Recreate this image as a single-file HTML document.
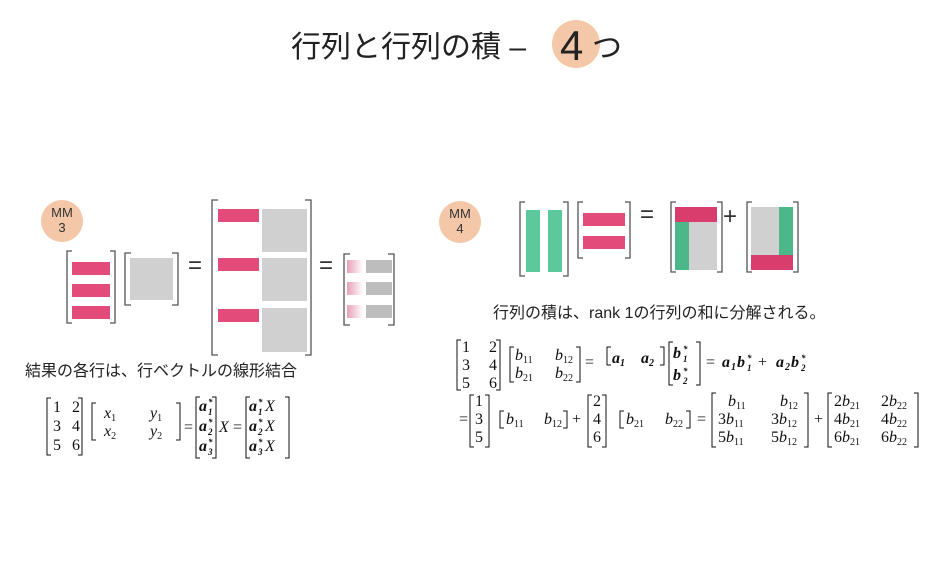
<!DOCTYPE html>
<html><head><meta charset="utf-8"><style>
html,body{margin:0;padding:0;background:#fff}
body{width:947px;height:572px;position:relative;overflow:hidden;font-family:"Liberation Sans","Noto Sans CJK JP",sans-serif}
</style></head><body>
<svg width="947" height="572" viewBox="0 0 947 572" xmlns="http://www.w3.org/2000/svg" style="position:absolute;left:0;top:0">
<defs>
<linearGradient id="fade" x1="0" x2="1"><stop offset="0" stop-color="#e8a0b8"/><stop offset="1" stop-color="#fff"/></linearGradient>
</defs>
<circle cx="576" cy="44" r="24" fill="#f3c7a8"/>
<text x="291" y="57" font-size="30" fill="#222" font-family="Liberation Sans, Noto Sans CJK JP, sans-serif">行列と行列の積 –</text>
<text x="560" y="60" font-size="42" fill="#222" font-family="Liberation Sans, sans-serif">4</text>
<text x="592" y="58" font-size="30" fill="#222" font-family="Noto Sans CJK JP, sans-serif">つ</text>

<circle cx="62" cy="221" r="21" fill="#f3c7a8"/>
<text x="62" y="217" font-size="13" text-anchor="middle" fill="#333">MM</text>
<text x="62" y="232" font-size="13" text-anchor="middle" fill="#333">3</text>
<g fill="none" stroke="#555" stroke-width="1.3">
<path d="M72,251 H67 V323 H72"/><path d="M110,251 H115 V323 H110"/>
<path d="M131,253 H125 V305 H131"/><path d="M172,253 H178 V305 H172"/>
<path d="M218,200 H212 V355 H218"/><path d="M305,200 H311 V355 H305"/>
<path d="M350,254 H344 V325 H350"/><path d="M388,254 H394 V325 H388"/>
</g>
<g fill="#e34b7a">
<rect x="72" y="262" width="38" height="13"/><rect x="72" y="284" width="38" height="13"/><rect x="72" y="306" width="38" height="13"/>
<rect x="218" y="209" width="41" height="13"/><rect x="218" y="258" width="41" height="13"/><rect x="218" y="309" width="41" height="13"/>
</g>
<g fill="#d0d0d0">
<rect x="130" y="258" width="43" height="42"/>
<rect x="262" y="209" width="45" height="43"/><rect x="262" y="258" width="45" height="43"/><rect x="262" y="308" width="45" height="44"/>
<rect x="366" y="260" width="26" height="13" fill="#bdbdbd"/><rect x="366" y="282" width="26" height="13" fill="#bdbdbd"/><rect x="366" y="305" width="26" height="13" fill="#bdbdbd"/>
</g>
<rect x="347" y="260" width="16" height="13" fill="url(#fade)"/><rect x="347" y="282" width="16" height="13" fill="url(#fade)"/><rect x="347" y="305" width="16" height="13" fill="url(#fade)"/>
<text x="188" y="273" font-size="24" fill="#333">=</text>
<text x="319" y="273" font-size="24" fill="#333">=</text>
<text x="25" y="376" font-size="16" fill="#222" font-family="Liberation Sans, Noto Sans CJK JP, sans-serif">結果の各行は、行ベクトルの線形結合</text>

<circle cx="460" cy="222" r="21" fill="#f3c7a8"/>
<text x="460" y="218" font-size="13" text-anchor="middle" fill="#333">MM</text>
<text x="460" y="233" font-size="13" text-anchor="middle" fill="#333">4</text>
<g fill="none" stroke="#555" stroke-width="1.3">
<path d="M525,202 H520 V276 H525"/><path d="M563,202 H568 V276 H563"/>
<path d="M583,202 H578 V258 H583"/><path d="M625,202 H630 V258 H625"/>
<path d="M676,202 H671 V272 H676"/><path d="M717,202 H722 V272 H717"/>
<path d="M752,202 H747 V272 H752"/><path d="M793,202 H798 V272 H793"/>
</g>
<g fill="#5cc89b"><rect x="526" y="210" width="14" height="62"/><rect x="548" y="210" width="14" height="62"/></g>
<g fill="#e34b7a"><rect x="583" y="213" width="42" height="13"/><rect x="583" y="236" width="42" height="13"/></g>
<rect x="675" y="207" width="42" height="63" fill="#d0d0d0"/>
<rect x="675" y="222" width="14" height="48" fill="#4cb88a"/>
<rect x="675" y="207" width="42" height="15" fill="#d93d6e"/>
<rect x="751" y="207" width="42" height="63" fill="#d0d0d0"/>
<rect x="779" y="207" width="14" height="48" fill="#4cb88a"/>
<rect x="751" y="255" width="42" height="15" fill="#d93d6e"/>
<text x="640" y="222" font-size="24" fill="#333">=</text>
<text x="723" y="224" font-size="24" fill="#333">+</text>
<text x="493" y="318" font-size="16" fill="#222" font-family="Liberation Sans, Noto Sans CJK JP, sans-serif">行列の積は、rank 1の行列の和に分解される。</text>

<g font-family="Liberation Serif, DejaVu Serif, serif" font-size="16" fill="#111">
<g fill="none" stroke="#111" stroke-width="1">
<path d="M51,398 H47 V455 H51"/><path d="M78,398 H82 V455 H78"/>
<path d="M96,403 H92 V440 H96"/><path d="M176,403 H180 V440 H176"/>
<path d="M200,397 H196 V458 H200"/><path d="M212,397 H216 V458 H212"/>
<path d="M250,397 H246 V458 H250"/><path d="M285,397 H289 V458 H285"/>
<path d="M461,340 H457 V390 H461"/><path d="M496,340 H500 V390 H496"/>
<path d="M514,347 H510 V382 H514"/><path d="M576,347 H580 V382 H576"/>
<path d="M611,347 H607 V365 H611"/><path d="M660,347 H664 V365 H660"/>
<path d="M673,342 H669 V385 H673"/><path d="M696,342 H700 V385 H696"/>
<path d="M474,395 H470 V447 H474"/><path d="M485,395 H489 V447 H485"/>
<path d="M504,411 H500 V428 H504"/><path d="M563,411 H567 V428 H563"/>
<path d="M592,395 H588 V447 H592"/><path d="M602,395 H606 V447 H602"/>
<path d="M624,411 H620 V428 H624"/><path d="M686,411 H690 V428 H686"/>
<path d="M716,393 H712 V447 H716"/><path d="M804,393 H808 V447 H804"/>
<path d="M832,393 H828 V447 H832"/><path d="M914,393 H918 V447 H914"/>
</g>
<text x="53" y="412">1</text><text x="72" y="412">2</text>
<text x="53" y="431">3</text><text x="72" y="431">4</text>
<text x="53" y="450">5</text><text x="72" y="450">6</text>
<text x="104" y="418" font-style="italic">x<tspan font-size="10" font-style="normal" dy="3">1</tspan></text>
<text x="150" y="418" font-style="italic">y<tspan font-size="10" font-style="normal" dy="3">1</tspan></text>
<text x="104" y="436" font-style="italic">x<tspan font-size="10" font-style="normal" dy="3">2</tspan></text>
<text x="150" y="436" font-style="italic">y<tspan font-size="10" font-style="normal" dy="3">2</tspan></text>
<text x="184" y="432">=</text>
<g font-weight="bold" font-style="italic">
<text x="199" y="411">a</text><text x="208" y="405" font-size="9">*</text><text x="208" y="415" font-size="9">1</text>
<text x="199" y="431">a</text><text x="208" y="425" font-size="9">*</text><text x="208" y="435" font-size="9">2</text>
<text x="199" y="451">a</text><text x="208" y="445" font-size="9">*</text><text x="208" y="455" font-size="9">3</text>
<text x="249" y="411">a</text><text x="258" y="405" font-size="9">*</text><text x="258" y="415" font-size="9">1</text>
<text x="249" y="431">a</text><text x="258" y="425" font-size="9">*</text><text x="258" y="435" font-size="9">2</text>
<text x="249" y="451">a</text><text x="258" y="445" font-size="9">*</text><text x="258" y="455" font-size="9">3</text>
</g>
<g font-style="italic"><text x="265" y="411">X</text><text x="265" y="431">X</text><text x="265" y="451">X</text></g>
<text x="219" y="432" font-style="italic">X</text>
<text x="233" y="432">=</text>

<text x="462" y="352">1</text><text x="489" y="352">2</text>
<text x="462" y="370">3</text><text x="489" y="370">4</text>
<text x="462" y="388">5</text><text x="489" y="388">6</text>
<text x="515" y="360" font-style="italic">b<tspan font-size="10" font-style="normal" dy="3">11</tspan></text>
<text x="555" y="360" font-style="italic">b<tspan font-size="10" font-style="normal" dy="3">12</tspan></text>
<text x="515" y="378" font-style="italic">b<tspan font-size="10" font-style="normal" dy="3">21</tspan></text>
<text x="555" y="378" font-style="italic">b<tspan font-size="10" font-style="normal" dy="3">22</tspan></text>
<text x="585" y="367">=</text>
<g font-weight="bold" font-style="italic">
<text x="612" y="363">a<tspan font-size="10" dy="3">1</tspan></text>
<text x="641" y="363">a<tspan font-size="10" dy="3">2</tspan></text>
<text x="673" y="358">b</text><text x="683" y="352" font-size="9">*</text><text x="683" y="362" font-size="9">1</text>
<text x="673" y="380">b</text><text x="683" y="374" font-size="9">*</text><text x="683" y="384" font-size="9">2</text>
<text x="722" y="367">a</text><text x="731" y="370" font-size="10">1</text>
<text x="737" y="367">b</text><text x="747" y="361" font-size="9">*</text><text x="747" y="371" font-size="9">1</text>
<text x="776" y="367">a</text><text x="785" y="370" font-size="10">2</text>
<text x="791" y="367">b</text><text x="801" y="361" font-size="9">*</text><text x="801" y="371" font-size="9">2</text>
</g>
<text x="706" y="367">=</text>
<text x="758" y="367">+</text>

<text x="459" y="424">=</text>
<text x="475" y="406">1</text><text x="475" y="424">3</text><text x="475" y="442">5</text>
<text x="506" y="424" font-style="italic">b<tspan font-size="10" font-style="normal" dy="3">11</tspan></text>
<text x="544" y="424" font-style="italic">b<tspan font-size="10" font-style="normal" dy="3">12</tspan></text>
<text x="572" y="424">+</text>
<text x="593" y="406">2</text><text x="593" y="424">4</text><text x="593" y="442">6</text>
<text x="626" y="424" font-style="italic">b<tspan font-size="10" font-style="normal" dy="3">21</tspan></text>
<text x="665" y="424" font-style="italic">b<tspan font-size="10" font-style="normal" dy="3">22</tspan></text>
<text x="697" y="424">=</text>
<text x="728" y="406" font-style="italic">b<tspan font-size="10" font-style="normal" dy="3">11</tspan></text>
<text x="780" y="406" font-style="italic">b<tspan font-size="10" font-style="normal" dy="3">12</tspan></text>
<text x="718" y="424">3<tspan font-style="italic">b</tspan><tspan font-size="10" dy="3">11</tspan></text>
<text x="771" y="424">3<tspan font-style="italic">b</tspan><tspan font-size="10" dy="3">12</tspan></text>
<text x="718" y="442">5<tspan font-style="italic">b</tspan><tspan font-size="10" dy="3">11</tspan></text>
<text x="771" y="442">5<tspan font-style="italic">b</tspan><tspan font-size="10" dy="3">12</tspan></text>
<text x="814" y="424">+</text>
<text x="834" y="406">2<tspan font-style="italic">b</tspan><tspan font-size="10" dy="3">21</tspan></text>
<text x="881" y="406">2<tspan font-style="italic">b</tspan><tspan font-size="10" dy="3">22</tspan></text>
<text x="834" y="424">4<tspan font-style="italic">b</tspan><tspan font-size="10" dy="3">21</tspan></text>
<text x="881" y="424">4<tspan font-style="italic">b</tspan><tspan font-size="10" dy="3">22</tspan></text>
<text x="834" y="442">6<tspan font-style="italic">b</tspan><tspan font-size="10" dy="3">21</tspan></text>
<text x="881" y="442">6<tspan font-style="italic">b</tspan><tspan font-size="10" dy="3">22</tspan></text>
</g>
</svg>
</body></html>
